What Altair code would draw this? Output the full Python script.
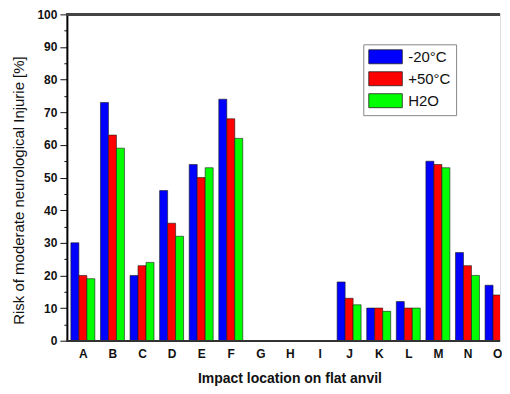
import altair as alt
import pandas as pd

locations = list("ABCDEFGHIJKLMNO")
series_names = ["-20°C", "+50°C", "H2O"]
cold = [30, 73, 20, 46, 54, 74, None, None, None, 18, 10, 12, 55, 27, 17]
hot = [20, 63, 23, 36, 50, 68, None, None, None, 13, 10, 10, 54, 23, 14]
water = [19, 59, 24, 32, 53, 62, None, None, None, 11, 9, 10, 53, 20, 13]
colors = ["#0000ff", "#ff0000", "#00ff00"]
y_ticks = list(range(0, 101, 5))

rows = []
for k, (s, vals) in enumerate(zip(series_names, [cold, hot, water])):
    for i, (loc, v) in enumerate(zip(locations, vals)):
        if v is not None:
            rows.append({"loc": loc, "idx": i, "k": k, "series": s, "value": v})
df = pd.DataFrame(rows)

FONT = "Liberation Sans"
W = 434
H = 327
GROUP = 0.81          # share of a category slot taken by its three bars
BAR = GROUP / 3
letters_js = "[" + ",".join("'%s'" % c for c in locations) + "]"

y_scale = alt.Scale(domain=[0, 100], nice=False)
y_axis = alt.Axis(
    title="Risk of moderate neurological Injurie [%]",
    values=y_ticks,
    labelExpr="datum.value % 10 === 0 ? datum.label : ''",
    labelOverlap=False,
    tickSize={"expr": "datum.value % 10 === 0 ? 7 : 3"},
    tickColor="#111",
    tickWidth=1,
    grid=False,
    labelFont=FONT,
    labelFontSize=12,
    labelFontWeight="bold",
    labelColor="#111",
    labelPadding=3,
    titleFont=FONT,
    titleFontSize=15,
    titleFontWeight="normal",
    titleColor="#111",
    titlePadding=10,
    titleY=176,
    domainColor="#000",
    domainWidth=2,
)

bars = alt.Chart(df).transform_calculate(
    x0=f"datum.idx - {GROUP / 2} + datum.k * {BAR}",
    x1=f"datum.idx - {GROUP / 2} + (datum.k + 1) * {BAR}",
).mark_bar(stroke="#1a1a1a", strokeWidth=0.6, clip=True).encode(
    x=alt.X(
        "x0:Q",
        scale=alt.Scale(domain=[-0.54, 14.10], nice=False, zero=False),
        axis=alt.Axis(
            title="Impact location on flat anvil",
            values=list(range(len(locations))),
            labelExpr=f"{letters_js}[datum.value]",
            labelOverlap=False,
            labelAngle=0,
            ticks=False,
            domain=False,
            grid=False,
            labelFont=FONT,
            labelFontSize=12,
            labelFontWeight="bold",
            labelColor="#111",
            labelPadding=8,
            titleFont=FONT,
            titleFontSize=14,
            titleFontWeight="bold",
            titleColor="#111",
            titlePadding=12,
            titleX=223,
        ),
    ),
    x2="x1:Q",
    y=alt.Y("value:Q", scale=y_scale, axis=y_axis),
    y2=alt.datum(0),
    color=alt.Color(
        "series:N",
        sort=series_names,
        scale=alt.Scale(domain=series_names, range=colors),
        legend=alt.Legend(
            title=None,
            orient="none",
            legendX=297,
            legendY=30,
            symbolType="M-1,-1H3.8V1H-1Z",
            symbolSize=196,
            symbolStrokeColor="#222",
            symbolStrokeWidth=0.8,
            symbolOpacity=1,
            labelFont=FONT,
            labelFontSize=15,
            labelColor="#111",
            rowPadding=3,
            padding=5,
            strokeColor="#888",
            fillColor="white",
            labelOffset=25,
        ),
    ),
)

top_line = alt.Chart(df).mark_rule(color="#444", strokeWidth=2).encode(
    y=alt.Y(datum=100, scale=y_scale, axis=y_axis), x=alt.value(0), x2=alt.value(W)
)
bottom_line = alt.Chart(df).mark_rule(color="#333", strokeWidth=1.5).encode(
    y=alt.Y(datum=0, scale=y_scale, axis=y_axis), x=alt.value(0), x2=alt.value(W)
)

chart = alt.layer(bars, top_line, bottom_line).properties(
    width=W,
    height=H,
    padding={"left": 3, "top": 0, "right": 0, "bottom": 0},
).configure_view(
    stroke=None,
).configure(background="white")

chart.save("out.html", embed_options={"renderer": "svg", "actions": False})
